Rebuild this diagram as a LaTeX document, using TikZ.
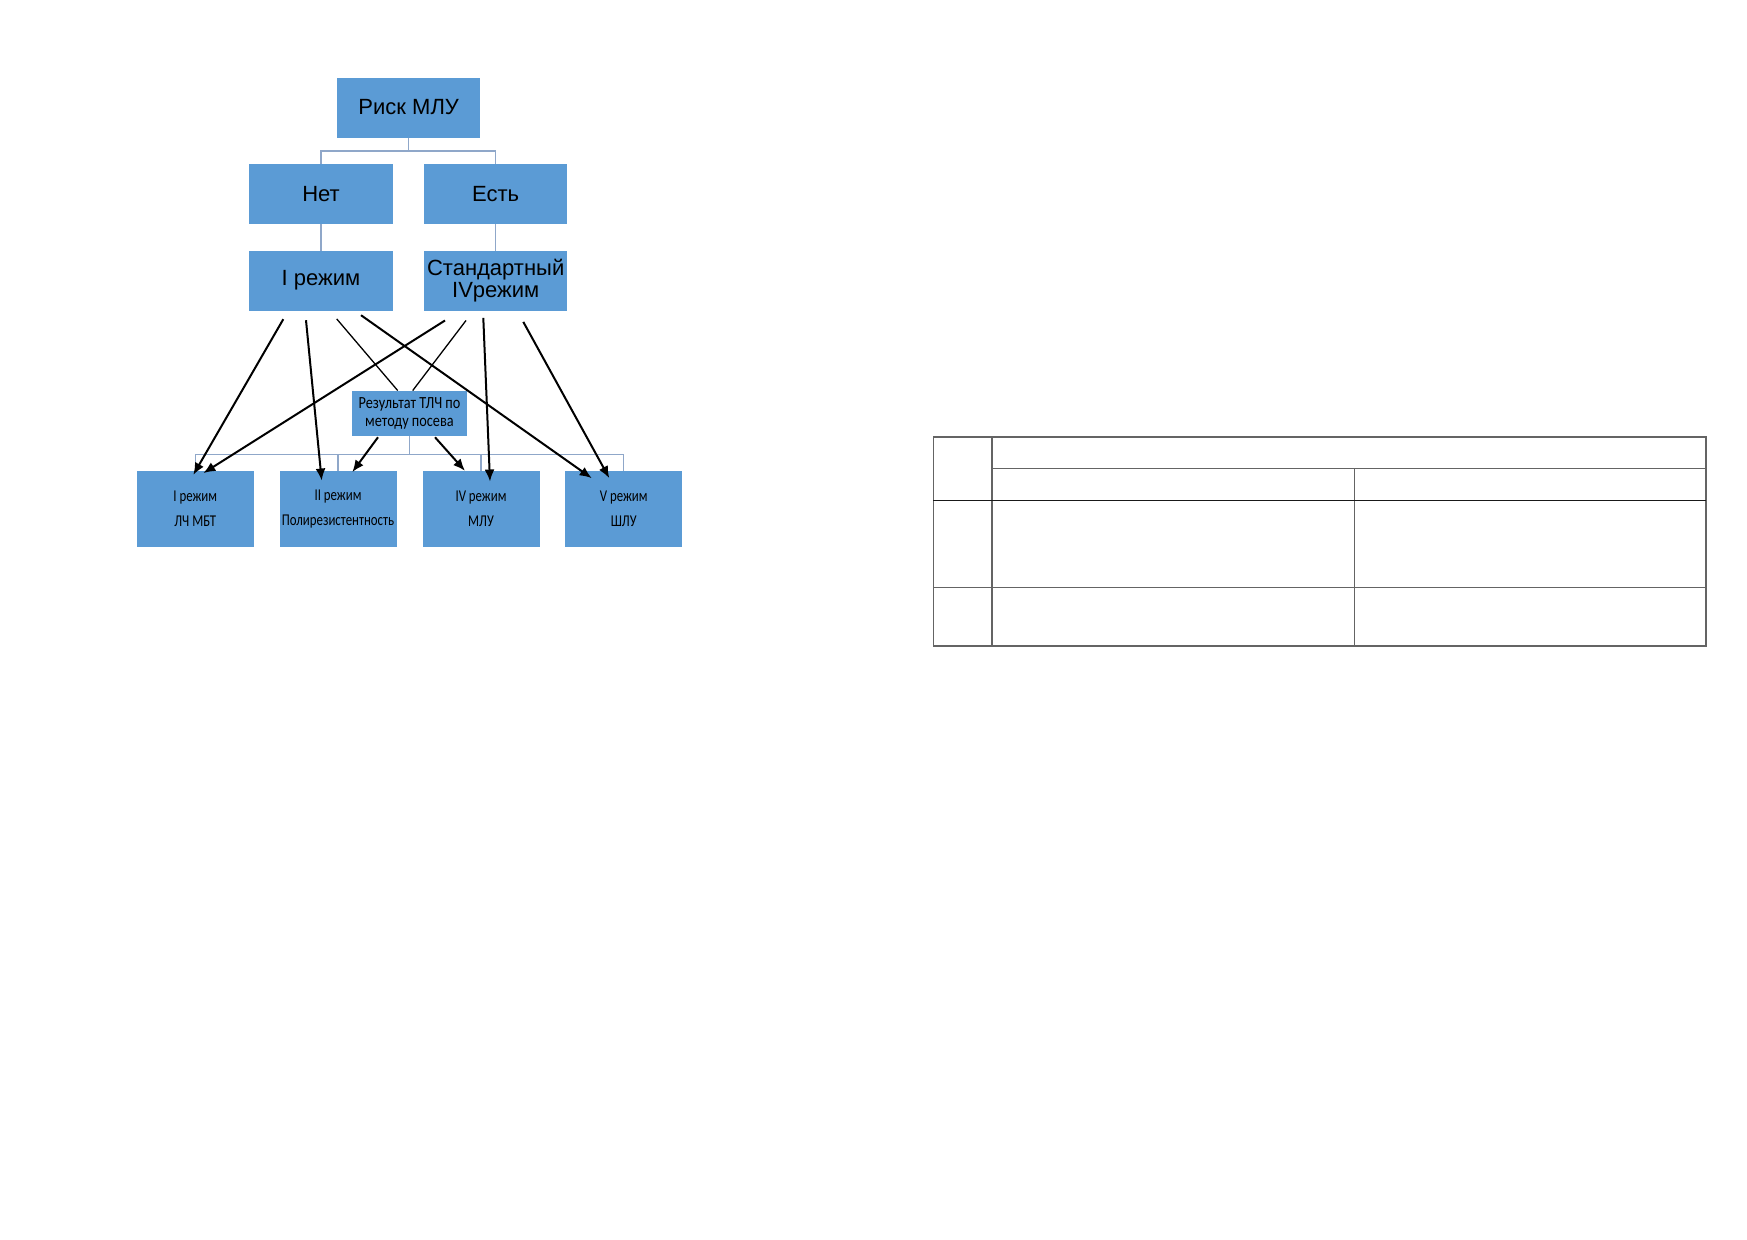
\documentclass[tikz,border=0pt]{standalone}
\usepackage{fontspec}
\setmainfont{Liberation Sans}
\newfontfamily\narrowfont[FakeStretch=0.78]{Carlito}
\newfontfamily\resfont[FakeStretch=0.84]{Carlito}
\usetikzlibrary{arrows.meta}
\definecolor{boxblue}{RGB}{91,155,213}
\definecolor{treeline}{RGB}{143,167,201}
\definecolor{gridline}{RGB}{100,100,100}
\tikzset{
  topbox/.style={fill=boxblue,minimum width=143.4pt,minimum height=60pt,inner sep=0pt,
    align=center,font=\fontsize{22}{22}\selectfont},
  resbox/.style={fill=boxblue,minimum width=114.5pt,minimum height=45.3pt,inner sep=0pt,
    align=center,font=\resfont\fontsize{17}{18.5}\selectfont},
  regbox/.style={fill=boxblue,minimum width=117pt,minimum height=76.3pt,inner sep=0pt,
    align=center,font=\narrowfont\fontsize{16.5}{25}\selectfont},
  tree/.style={draw=treeline,line width=1.3pt},
  arr/.style={draw=black,line width=2pt,-{Latex[length=12pt,width=10pt]}},
  thin/.style={draw=black,line width=1.3pt},
  grid/.style={draw=gridline,line width=1.6pt}
}
\begin{document}
\begin{tikzpicture}[x=1pt,y=-1pt]
	\fill[white] (0,0) rectangle (1747,1239);
	\node[topbox] (risk) at (408.7,107.5) {Риск МЛУ};
	\node[topbox] (net) at (321,194.2) {Нет};
	\node[topbox] (est) at (495.7,194.2) {Есть};
	\node[topbox] (ireg) at (321,280.7) {I режим};
	\node[topbox] (stand) at (495.7,280.7) {Стандартный\\IVрежим};
	\node[resbox] (res) at (409.5,413.4) {Результат ТЛЧ по\\методу посева};
	\node[regbox] (b1) at (195.3,509.2) {I режим\\ЛЧ МБТ};
	\node[regbox] (b2) at (338,509.2) {II режим\\Полирезистентность};
	\node[regbox] (b3) at (481,509.2) {IV режим\\МЛУ};
	\node[regbox] (b4) at (623.7,509.2) {V режим\\ШЛУ};
	\draw[tree] (risk.south) -- ++(0,13.4) -| (net.north);
	\draw[tree] (risk.south) -- ++(0,13.4) -| (est.north);
	\draw[tree] (net.south) -- (ireg.north);
	\draw[tree] (est.south) -- (stand.north);
	\foreach \b in {b1,b2,b3,b4}
		\draw[tree] (res.south) -- ++(0,18) -| (\b.north);
	\draw[arr] ([xshift=-37.7pt,yshift=-8.3pt]ireg.south) -- ([xshift=-2pt,yshift=-4pt]b1.north);
	\draw[arr] ([xshift=-15pt,yshift=-9.3pt]ireg.south) -- ([xshift=-16.3pt,yshift=-9.7pt]b2.north);
	\draw[thin] ([xshift=15.7pt,yshift=-8pt]ireg.south) -- ([xshift=-11.8pt]res.north);
	\draw[arr] ([xshift=40pt,yshift=-4.3pt]ireg.south) -- ([xshift=-32pt,yshift=-7.3pt]b4.north);
	\draw[arr] ([xshift=-50.7pt,yshift=-9.6pt]stand.south) -- ([xshift=8pt,yshift=-2.3pt]b1.north);
	\draw[thin] ([xshift=-29.7pt,yshift=-9.6pt]stand.south) -- ([xshift=3.2pt]res.north);
	\draw[arr] ([xshift=-12.4pt,yshift=-7pt]stand.south) -- ([xshift=9pt,yshift=-10.7pt]b3.north);
	\draw[arr] ([xshift=27.6pt,yshift=-11pt]stand.south) -- ([xshift=-14.4pt,yshift=-7.3pt]b4.north);
	\draw[arr] ([xshift=-31.5pt,yshift=-1pt]res.south) -- ([xshift=14.3pt,yshift=-1.3pt]b2.north);
	\draw[arr] ([xshift=25.5pt,yshift=-1pt]res.south) -- ([xshift=-16pt]b3.north);
	\draw[grid] (933.3,436.7) rectangle (1706,645.7);
	\draw[grid] (992,436.7) -- (992,645.7);
	\draw[grid] (992,468.3) -- (1706,468.3);
	\draw[grid] (1354.3,468.3) -- (1354.3,645.7);
	\draw[grid,draw=black!90] (933.3,500.3) -- (1706,500.3);
	\draw[grid] (933.3,587.3) -- (1706,587.3);
\end{tikzpicture}
\end{document}
